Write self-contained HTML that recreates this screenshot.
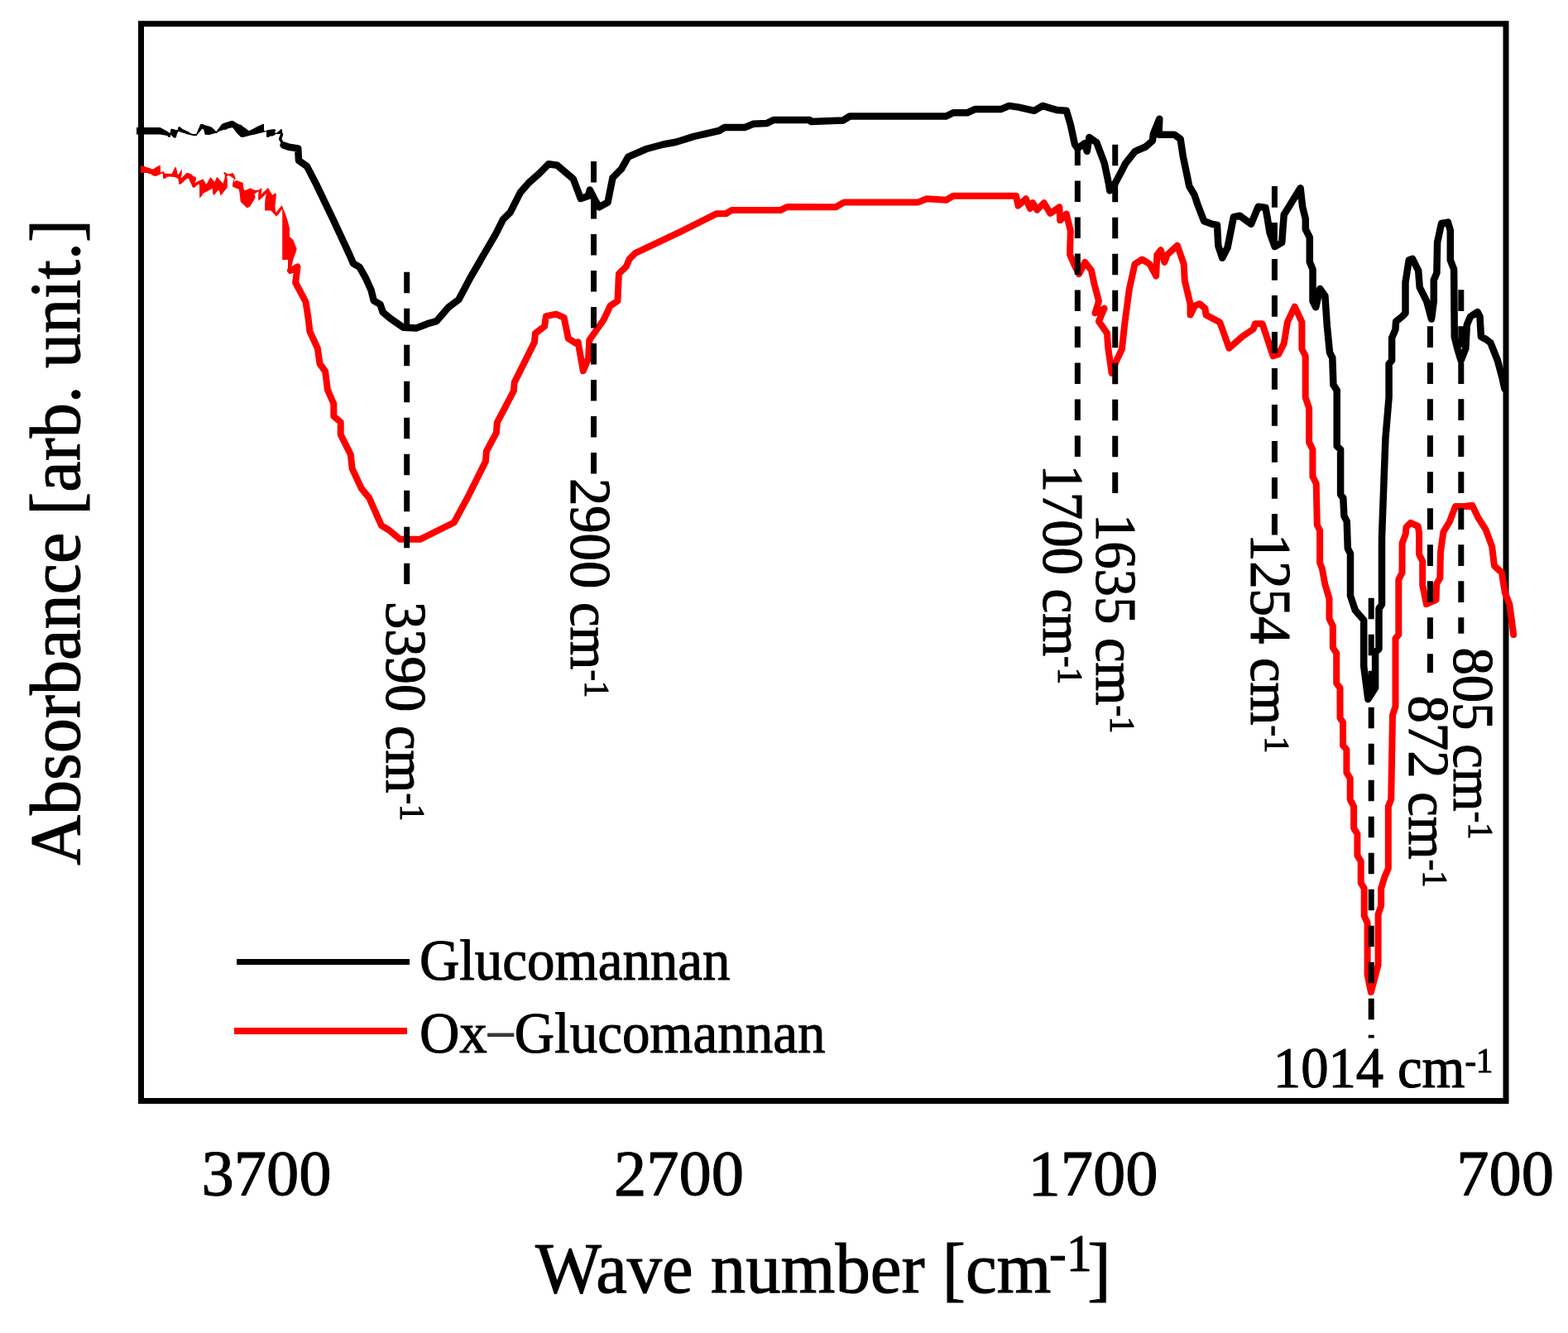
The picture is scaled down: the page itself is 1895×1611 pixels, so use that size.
<!DOCTYPE html>
<html><head><meta charset="utf-8"><title>FTIR spectra</title>
<style>html,body{margin:0;padding:0;background:#fff;overflow:hidden}svg{display:block}text{stroke:#000;stroke-width:1.1px;stroke-linejoin:round}</style></head>
<body>
<svg width="1895" height="1611" viewBox="0 0 1895 1611" font-family="'Liberation Serif', 'Times New Roman', serif" fill="#000">
<rect x="170.5" y="28.75" width="1649.5" height="1301.75" fill="none" stroke="#000" stroke-width="7"/>
<g id="curves" fill="none" stroke-linejoin="round" stroke-linecap="round">
<polygon fill="#000" points="165,153.9 193.5,153.9 201.3,158.2 205.6,161.1 206.2,157.1 207.2,155 207.7,156 210.6,156 211.5,157.1 214.8,157.1 215.3,154.1 216.5,153.1 218.6,153.9 220.3,155.8 224.5,157.7 228.8,159.8 230,161.1 233.8,162 237.2,162 238.1,159.8 240.6,153.9 242.3,150.1 244.8,150.1 247.8,151.2 251.6,152.2 256.2,153.9 261.3,159 264.6,154.8 268,150.1 270,149.1 273,148 276.3,147 279.3,146.1 281.8,146.1 283.9,147.6 288.2,149.9 292,151.2 293.6,152.9 296.6,154.8 299.1,156.9 301.2,157.9 303.3,156.9 307.1,155 310.9,153.1 315.2,151 317.3,150.1 319,150.1 319,157.9 322.3,158.2 322.8,157.1 324.5,157.1 329.1,156.3 332.9,156.3 332.9,158.2 332.1,159.4 333.3,161.1 335.9,159.4 339.2,156.3 340.9,156.3 341.5,163 341.5,163 339.6,161.1 338.4,161.9 333.3,161.9 331.6,163.6 329.1,164.5 326.6,164.5 324.9,165.7 322.1,165.7 321.9,159 319,159.8 314.7,160.7 310.9,161.7 306.7,162.8 302.9,163.6 299.1,164.5 294.5,165.7 291.1,165.7 286,160.7 282.7,156 280.6,153.9 279.1,154.6 275.9,155.2 273,156.7 270,156.9 264.6,158.8 261.7,160.9 260,160.9 256.2,162 252.8,163 247.8,162.8 246.1,156.5 244.4,155.8 241,159.8 237.6,164.1 233.4,164.1 229.6,163 225.4,162 222,160.7 218.2,159.8 217.8,159 215.3,159 213.6,162.8 213.2,165.3 211.5,167 209.4,165.7 206,162.8 205.8,165.7 203.4,165.7 202.2,163.9 193.5,162.6 165,162.6"/>
<polyline stroke="#000" stroke-width="3.5" points="340.5,162.5 338.6,168 342.6,175.4"/>
<polyline stroke="#000" stroke-width="8.5" points="342.6,175.4 349.3,177.8 360.2,179.4 361,194.1 371,201.1 381.9,222.1 402,264 422.2,307.4 426.9,318.3 434.6,322.9 442.4,336.9 448.6,350.8 451.7,363.3 459.5,367.9 462.6,377.2 471.9,385 487.4,395.8 502.9,396.6 516.9,391.2 527.7,388.1 542.3,371.1 554.3,362.2 567.7,336.9 578.1,319 584.1,308.5 599,283.2 607.9,265.3 616.8,256.4 628.8,232.6 639.2,220.7 651.1,210.2 663,198.3 673.4,199.8 692.8,216.2 701.8,240 710.7,237 712.9,229.6 718.1,240 724.1,250.4 734.5,244.5 740.5,214.7 750.9,204.3 759.2,189.6 781.2,180 801.7,174.5 816.8,171.7 838.8,164.9 869,158 875.8,153.9 900.5,153.9 910.1,149.8 926.6,149.1 934.8,145 978.7,145 980.1,147 1018.6,145.6 1027,140.5 1143.5,140.5 1152,136.3 1168.9,136.3 1178.1,132.1 1209.4,132.1 1219.5,127.9 1231.3,129.6 1249.9,133.8 1260,127.9 1276.9,132.9 1288.8,133.8 1293.8,150.7 1298.9,174.3 1302.3,179.4 1310.6,173.3 1313.7,182.8 1316.4,165.9 1325.3,172.2 1334.8,197.5 1340.1,222.9 1341.2,230.3 1346.4,223.9 1355.9,206 1360.2,197.5 1371.8,182.8 1384.4,177.5 1392.9,170.1 1393.9,161.7 1401.3,143.7 1400.3,162.7 1419.3,162.7 1426.6,168 1429.8,189.1 1435.1,214.4 1437.2,225 1443.5,235.5 1447.4,247.2 1455.1,267.2 1464.8,270.8 1471,272 1472.3,296.8 1477.2,311.7 1483.5,299.3 1490.9,262.1 1498.3,260.8 1512,270.8 1520.7,249.7 1529.4,250.9 1531.9,264.6 1534.4,280.7 1540.6,298.1 1549.2,293.1 1551.7,259.6 1571.6,227.3 1574.1,249.7 1577.8,264.6 1577.8,277 1582.8,286.9 1582.8,316.7 1586.5,325.4 1586.5,363.9 1590.2,371.3 1595.2,349 1601.4,357.7 1603.8,393.4 1607,426 1610.3,432.5 1611.4,465.1 1615.7,471.6 1615.7,538.9 1620.1,543.3 1620.1,597.6 1623.3,601.9 1624.4,623.6 1627.7,630.1 1628.8,662.7 1632,669.2 1632,720 1637.8,737.4 1648.2,749.5 1648.2,805.2 1653.4,845.1 1662.1,831.2 1662.1,787.8 1666.5,784.3 1666.5,735.6 1670,730.4 1670,649.7 1674.4,530.2 1678.6,480 1678.6,439.8 1682.1,435.6 1682.1,408.4 1686.4,398.4 1687.1,388.5 1694.3,382.7 1698.5,378.5 1698.5,341.4 1702.8,314.2 1707.1,312.8 1714.2,327.1 1715.7,347.1 1724.2,364.2 1730,385.6 1732.8,364.2 1732.8,338.5 1736.4,329.9 1737.1,292.8 1742.1,270 1749.9,268.6 1752.8,278.5 1752.8,314.2 1757.1,325.6 1757.8,407 1761.3,421.3 1765.6,435.6 1771.3,421.3 1772.8,392.7 1777,382.7 1785.6,377 1788.5,382.7 1789.9,407 1795.6,409.9 1801.3,414.1 1809.9,435.6 1815.6,457 1818.4,469.8"/>
<polygon fill="#f00" points="170,200 171.7,200 172,201 175.4,201 175.9,201.9 178.7,202.2 179.2,202.9 181.9,203.2 182.4,204.2 185.6,204.2 188.3,202.2 190.3,201.2 192.3,200 193.8,200 194,208.4 196.8,207.2 197.8,207.2 198.8,209.6 207.7,209.9 210.2,204.9 211.2,202.2 212.9,202.2 213.6,205.2 214.9,211.4 217.6,207.9 219.1,205.2 219.8,205.2 219.8,210.9 218.6,213.8 219.1,215.3 225.5,209.1 227.5,209.1 232,211.1 233.5,212.9 236.7,214.1 236.9,217.8 235,221.3 239.9,218.8 245.4,216.3 249.3,223 254.3,214.1 259.5,220.1 261.5,214.9 262.4,214.1 269.4,221.8 270.4,219.1 271.4,215.9 271.9,211.9 270.1,208.2 271.4,207.9 275.8,210.4 277.3,210.2 280.3,209.2 281.8,209.2 283.3,211.9 284.8,215.9 283.3,217.1 282.8,219.8 285.8,217.9 290.7,219.8 293.7,221.1 294.2,227 295.7,230.3 298.2,229.3 303.1,227.3 304.6,228.8 308.1,229.8 312.5,229.8 316.5,227 315.5,234.7 320,230.8 324,227 327.9,233.7 329.4,235.7 332.9,233.2 333.9,234.7 332.9,245.6 332.4,249.1 333.4,257 340.6,248.1 344.9,258.6 348,267.9 349.9,275.4 349.9,285.9 354.2,289.7 358.6,300.8 357.3,305.8 354.8,312 353,319.5 351.7,323.2 351.7,329.4 349.9,329.4 348,326.3 348,313.9 341.2,313.9 341.2,253 340.3,253.6 337.3,258 333.9,261.5 327.4,254.6 320,254.6 320.2,244.6 321,237.7 322,233.7 318,237.7 312.5,242.7 312,238.2 312.5,231.3 307.6,234.2 308.6,238.7 305.6,244.1 302.1,249.6 298.7,251.6 290.7,244.1 289.7,234.2 288.7,228.8 285.8,227.8 281,225.5 281,222.3 282.8,215.9 279.3,213.4 276.3,211.9 273.9,213.1 274.8,216.4 274.8,225.3 273.9,227.8 270.9,231.3 267.9,235.5 266.4,235.7 264.9,230.3 263.4,230.3 260,234.2 258.5,235.7 257,233.7 256.8,227.7 249.3,231.7 245.4,233.7 243.9,236.7 241.2,239.6 240.9,222.8 238.9,223.3 235,226.7 233,226.7 230,220.3 228,215.8 226,215.8 222.6,218.8 219.6,221.8 217.6,222.8 216.1,222.8 216.1,220.8 215.1,215.8 212.6,214.8 211.7,214.1 207.7,213.8 205.2,213.4 202.2,213.8 199.7,215.8 197,215.8 196.8,209.4 193.8,210.6 189.8,212.4 187.3,212.9 184.4,211.9 181.9,210.1 179.4,209.9 178.9,208.9 170,208.9"/>
<polyline stroke="#f00" stroke-width="8" points="351,327 359.5,322.5 357.1,341.5 369.5,364.8 372.6,385 374.4,400.5 383.8,421 386.5,439.6 393.1,448.9 395.9,471.2 403.3,488 403.3,502.9 411.7,510.3 411.7,525.2 423.8,549.4 425.6,566.2 436.8,590.4 446.1,601.6 461,635.1 470.3,640.7 483.4,651.8 507.6,651.8 548.7,631.5 566.1,599.3 586.9,557.6 587.8,545.5 599.9,522.9 600.8,510.7 620.8,472.5 621.7,462.1 646,413.4 646.8,403 658.1,394.3 659.9,382.2 672,379.6 681.6,383.9 686.8,409.1 696.4,415.2 698.6,413.5 704.8,448.3 711,433.4 712.3,411 729.7,386.2 737.5,369.6 746.4,363.7 747.9,330.9 756.9,322 760.6,313.1 767.4,306.2 822.3,280.1 866.2,258.2 877.2,258.2 884.1,254.1 943.1,254.1 951.3,250 1010.1,250.3 1020.3,244.4 1109.8,244.4 1119.9,240.2 1143.5,241.8 1152,236.8 1228,236.8 1230.5,248.6 1239.8,240.2 1244.9,252 1248.2,245.2 1253.3,253.7 1261.7,245.2 1269.3,257.9 1280.3,250.3 1281.2,266.3 1288.8,258.7 1293.8,279 1293,307.7 1298.9,321.2 1304,331.3 1311.2,316.9 1319,326.9 1322.3,342.6 1327.9,363.8 1323.5,378.3 1334.6,372.7 1327.9,388.4 1338,402.9 1339.1,419.7 1343.6,451 1348,438.7 1355.9,421.9 1359.2,391.7 1364.8,349.3 1371.5,319.1 1380.4,313.5 1389.4,319.1 1397.2,333.6 1398.3,307.9 1402.8,302.3 1407.3,316.9 1410.6,307.9 1422.9,296.8 1430.7,319.1 1431.8,339.2 1438.5,367.2 1438.5,380.6 1444.1,369.4 1449.7,367.2 1456.4,372.7 1457.5,380.6 1474.3,389.5 1485.5,420.8 1501.7,406.5 1514.7,397.8 1516.9,391.3 1525.6,391.3 1538.6,430.3 1545.1,428.2 1551.7,415.1 1556,389.1 1564.7,370.6 1573.4,389.1 1573.4,421.7 1577.7,430.3 1577.7,480.3 1582.1,493.3 1582.1,534.6 1586.4,543.3 1586.4,575.8 1590.7,584.5 1591.8,634.5 1595.1,641 1595.1,680.1 1597.8,687 1601.3,706.1 1606.5,723.5 1606.5,747.8 1610.8,756.5 1610.8,782.6 1615.2,789.5 1615.2,826 1619.5,831.2 1619.5,867.7 1623,873 1623,900.8 1627.4,906 1627.4,933.8 1631.7,940.7 1631.7,966.1 1636.1,974.8 1636.1,1000.8 1640.4,1007.8 1640.4,1033.8 1644.7,1040.8 1644.7,1066.9 1648.7,1073.8 1648.7,1106.8 1652.6,1115.5 1652.6,1178.1 1656.9,1199 1665.6,1165.9 1665.6,1105.1 1669.1,1094.7 1669.1,1073.8 1673.4,1059.9 1677.8,1049.5 1677.8,974.8 1681.2,966.1 1682.1,916.4 1683,864.3 1686.5,853.8 1686.5,771.5 1690.3,767 1690.3,700.5 1694.5,692 1694.6,656.5 1698.7,645.6 1699.4,637.4 1704.8,631.9 1713.7,636 1715.1,644.2 1715.1,670.1 1719.2,678.3 1719.2,707 1723.9,730.2 1735.6,724.8 1736.2,705.6 1740.3,698.8 1741,667.4 1744.4,642.8 1751.9,630.5 1758.8,612.1 1768.3,612.1 1779.3,610.7 1786.1,625.1 1795.6,640.1 1803.2,660.6 1805.9,683.8 1814.8,692 1818.9,716.6 1824.3,730.2 1827.1,750.7 1829.1,767.1"/>
</g>
<g id="dashes" stroke="#000" stroke-width="7" stroke-dasharray="25.6 18.4" fill="none">
<line x1="491.7" y1="328.75" x2="491.7" y2="706"/>
<line x1="717.5" y1="194.9" x2="717.5" y2="573"/>
<line x1="1302.3" y1="174.5" x2="1302.3" y2="552"/>
<line x1="1347.7" y1="174.7" x2="1347.7" y2="596"/>
<line x1="1540.4" y1="225.1" x2="1540.4" y2="646.6"/>
<line x1="1657.2" y1="722.7" x2="1657.2" y2="1254.6"/>
<line x1="1728.4" y1="394.3" x2="1728.4" y2="812.9"/>
<line x1="1765.8" y1="350.3" x2="1765.8" y2="765.7"/>
</g>
<g font-size="78.5" text-anchor="middle">
<text id="t3700" x="322" y="1444">3700</text>
<text id="t2700" x="820.6" y="1444">2700</text>
<text id="t1700" x="1321" y="1444">1700</text>
<text id="t700" x="1819" y="1444">700</text>
</g>
<text id="xt" transform="translate(647 1562) scale(0.985 1)" font-size="86">Wave number [cm<tspan x="630.5" y="-26" font-size="63">-1</tspan><tspan x="677.5" y="0">]</tspan></text>
<text id="yt" transform="translate(96 1045.8) rotate(-90) scale(0.979 1)" font-size="86">Absorbance [arb. unit.]</text>
<line x1="286" y1="1162.5" x2="495" y2="1162.5" stroke="#000" stroke-width="7"/>
<line x1="283" y1="1246" x2="492" y2="1246" stroke="#f00" stroke-width="8"/>
<text id="lg1" transform="translate(506.9 1184) scale(0.9568 1)" font-size="70">Glucomannan</text>
<text id="lg2" transform="translate(506.9 1272) scale(0.9568 1)" font-size="70">Ox<tspan x="83" y="2" fill="#383838" stroke="#383838">−</tspan><tspan x="120" y="0">Glucomannan</tspan></text>
<g font-size="69">
<text id="p3390" transform="translate(466.7 726.9) rotate(90) scale(0.967 1)">3390 cm<tspan font-size="42" dy="-17.5">-1</tspan></text>
<text id="p2900" transform="translate(689.5 577.9) rotate(90) scale(0.967 1)">2900 cm<tspan font-size="42" dy="-17.5">-1</tspan></text>
<text id="p1700" transform="translate(1261.2 561.5) rotate(90) scale(0.967 1)">1700 cm<tspan font-size="42" dy="-17.5">-1</tspan></text>
<text id="p1635" transform="translate(1324.8 620.9) rotate(90) scale(0.967 1)">1635 cm<tspan font-size="42" dy="-17.5">-1</tspan></text>
<text id="p1254" transform="translate(1511.9 644.9) rotate(90) scale(0.967 1)">1254 cm<tspan font-size="42" dy="-17.5">-1</tspan></text>
<text id="p872" transform="translate(1702.8 840.5) rotate(90) scale(0.967 1)">872 cm<tspan font-size="42" dy="-17.5">-1</tspan></text>
<text id="p805" transform="translate(1757.1 782.4) rotate(90) scale(0.967 1)">805 cm<tspan font-size="42" dy="-17.5">-1</tspan></text>
<text id="p1014" transform="translate(1538.8 1313.7) scale(0.967 1)">1014 cm<tspan font-size="42" dy="-17.5">-1</tspan></text>
</g>
</svg>
</body></html>
